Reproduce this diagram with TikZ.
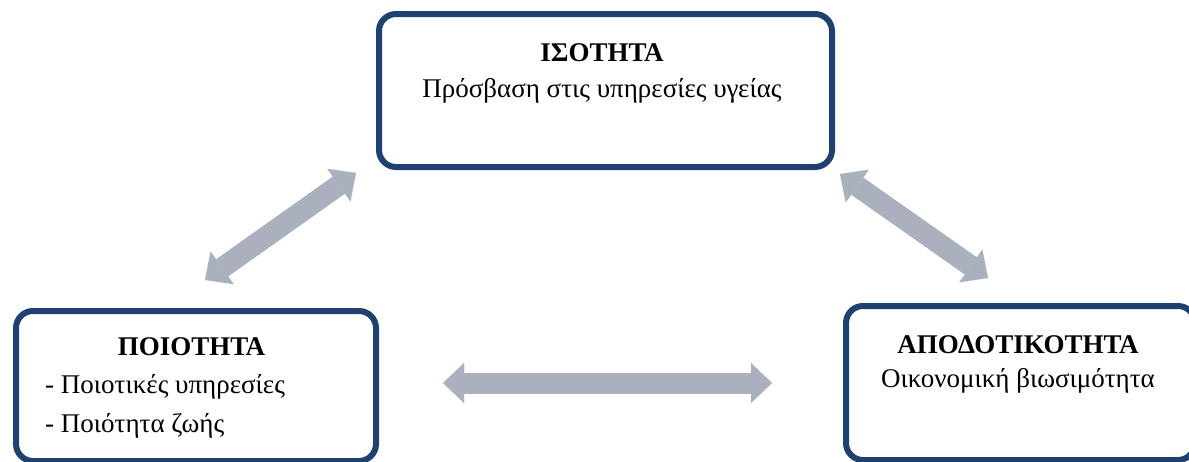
\documentclass[tikz,border=0pt]{standalone}
\usepackage{fontspec}
\setmainfont{Liberation Serif}
\usetikzlibrary{arrows.meta,calc}
\definecolor{boxblue}{HTML}{1F4170}
\definecolor{arrowgray}{HTML}{AAB0BE}
\tikzset{
  panel/.style={draw=boxblue, line width=6pt, rounded corners=17pt, fill=white,
    anchor=north west, inner sep=0pt},
  title/.style={font=\fontsize{27}{31}\selectfont\bfseries, anchor=base, inner sep=0pt},
  body/.style={font=\fontsize{27}{31}\selectfont, anchor=base, inner sep=0pt},
  bodyleft/.style={body, anchor=base west},
  link/.style={draw=arrowgray, line width=21pt,
    {Triangle[width=40pt,length=21pt,line width=0.01pt]}-{Triangle[width=40pt,length=21pt,line width=0.01pt]}},
}
\begin{document}
\begin{tikzpicture}[x=1pt,y=-1pt]
\useasboundingbox (0,0) rectangle (1189,461);

% the three boxes
\node[panel, minimum width=453pt, minimum height=153pt] (eq) at (376,11) {};
\node[panel, minimum width=360pt, minimum height=150pt] (qual) at (13,308) {};
\node[panel, minimum width=349pt, minimum height=154pt] (eff) at (843,303) {};

% texts
\node[title] (eqT) at (602,61) {ΙΣΟΤΗΤΑ};
\node[body] (eqB) at (602,97) {Πρόσβαση στις υπηρεσίες υγείας};

\node[title] (qualT) at (191.5,355) {ΠΟΙΟΤΗΤΑ};
\node[bodyleft] (qualA) at (45,393) {- Ποιοτικές υπηρεσίες};
\node[bodyleft] (qualB) at (45,432) {- Ποιότητα ζωής};

\node[title] (effT) at (1018,353) {ΑΠΟΔΟΤΙΚΟΤΗΤΑ};
\node[body] (effB) at (1018,387) {Οικονομική βιωσιμότητα};

% arrow end points
\coordinate (l1) at (205,280);
\coordinate (l2) at (356,173);
\coordinate (r1) at (840,174);
\coordinate (r2) at (988,278);
\coordinate (h1) at (443,383);
\coordinate (h2) at (772,383);

\draw[link] (l1) -- (l2);
\draw[link] (r1) -- (r2);
\draw[link] (h1) -- (h2);
\end{tikzpicture}
\end{document}
